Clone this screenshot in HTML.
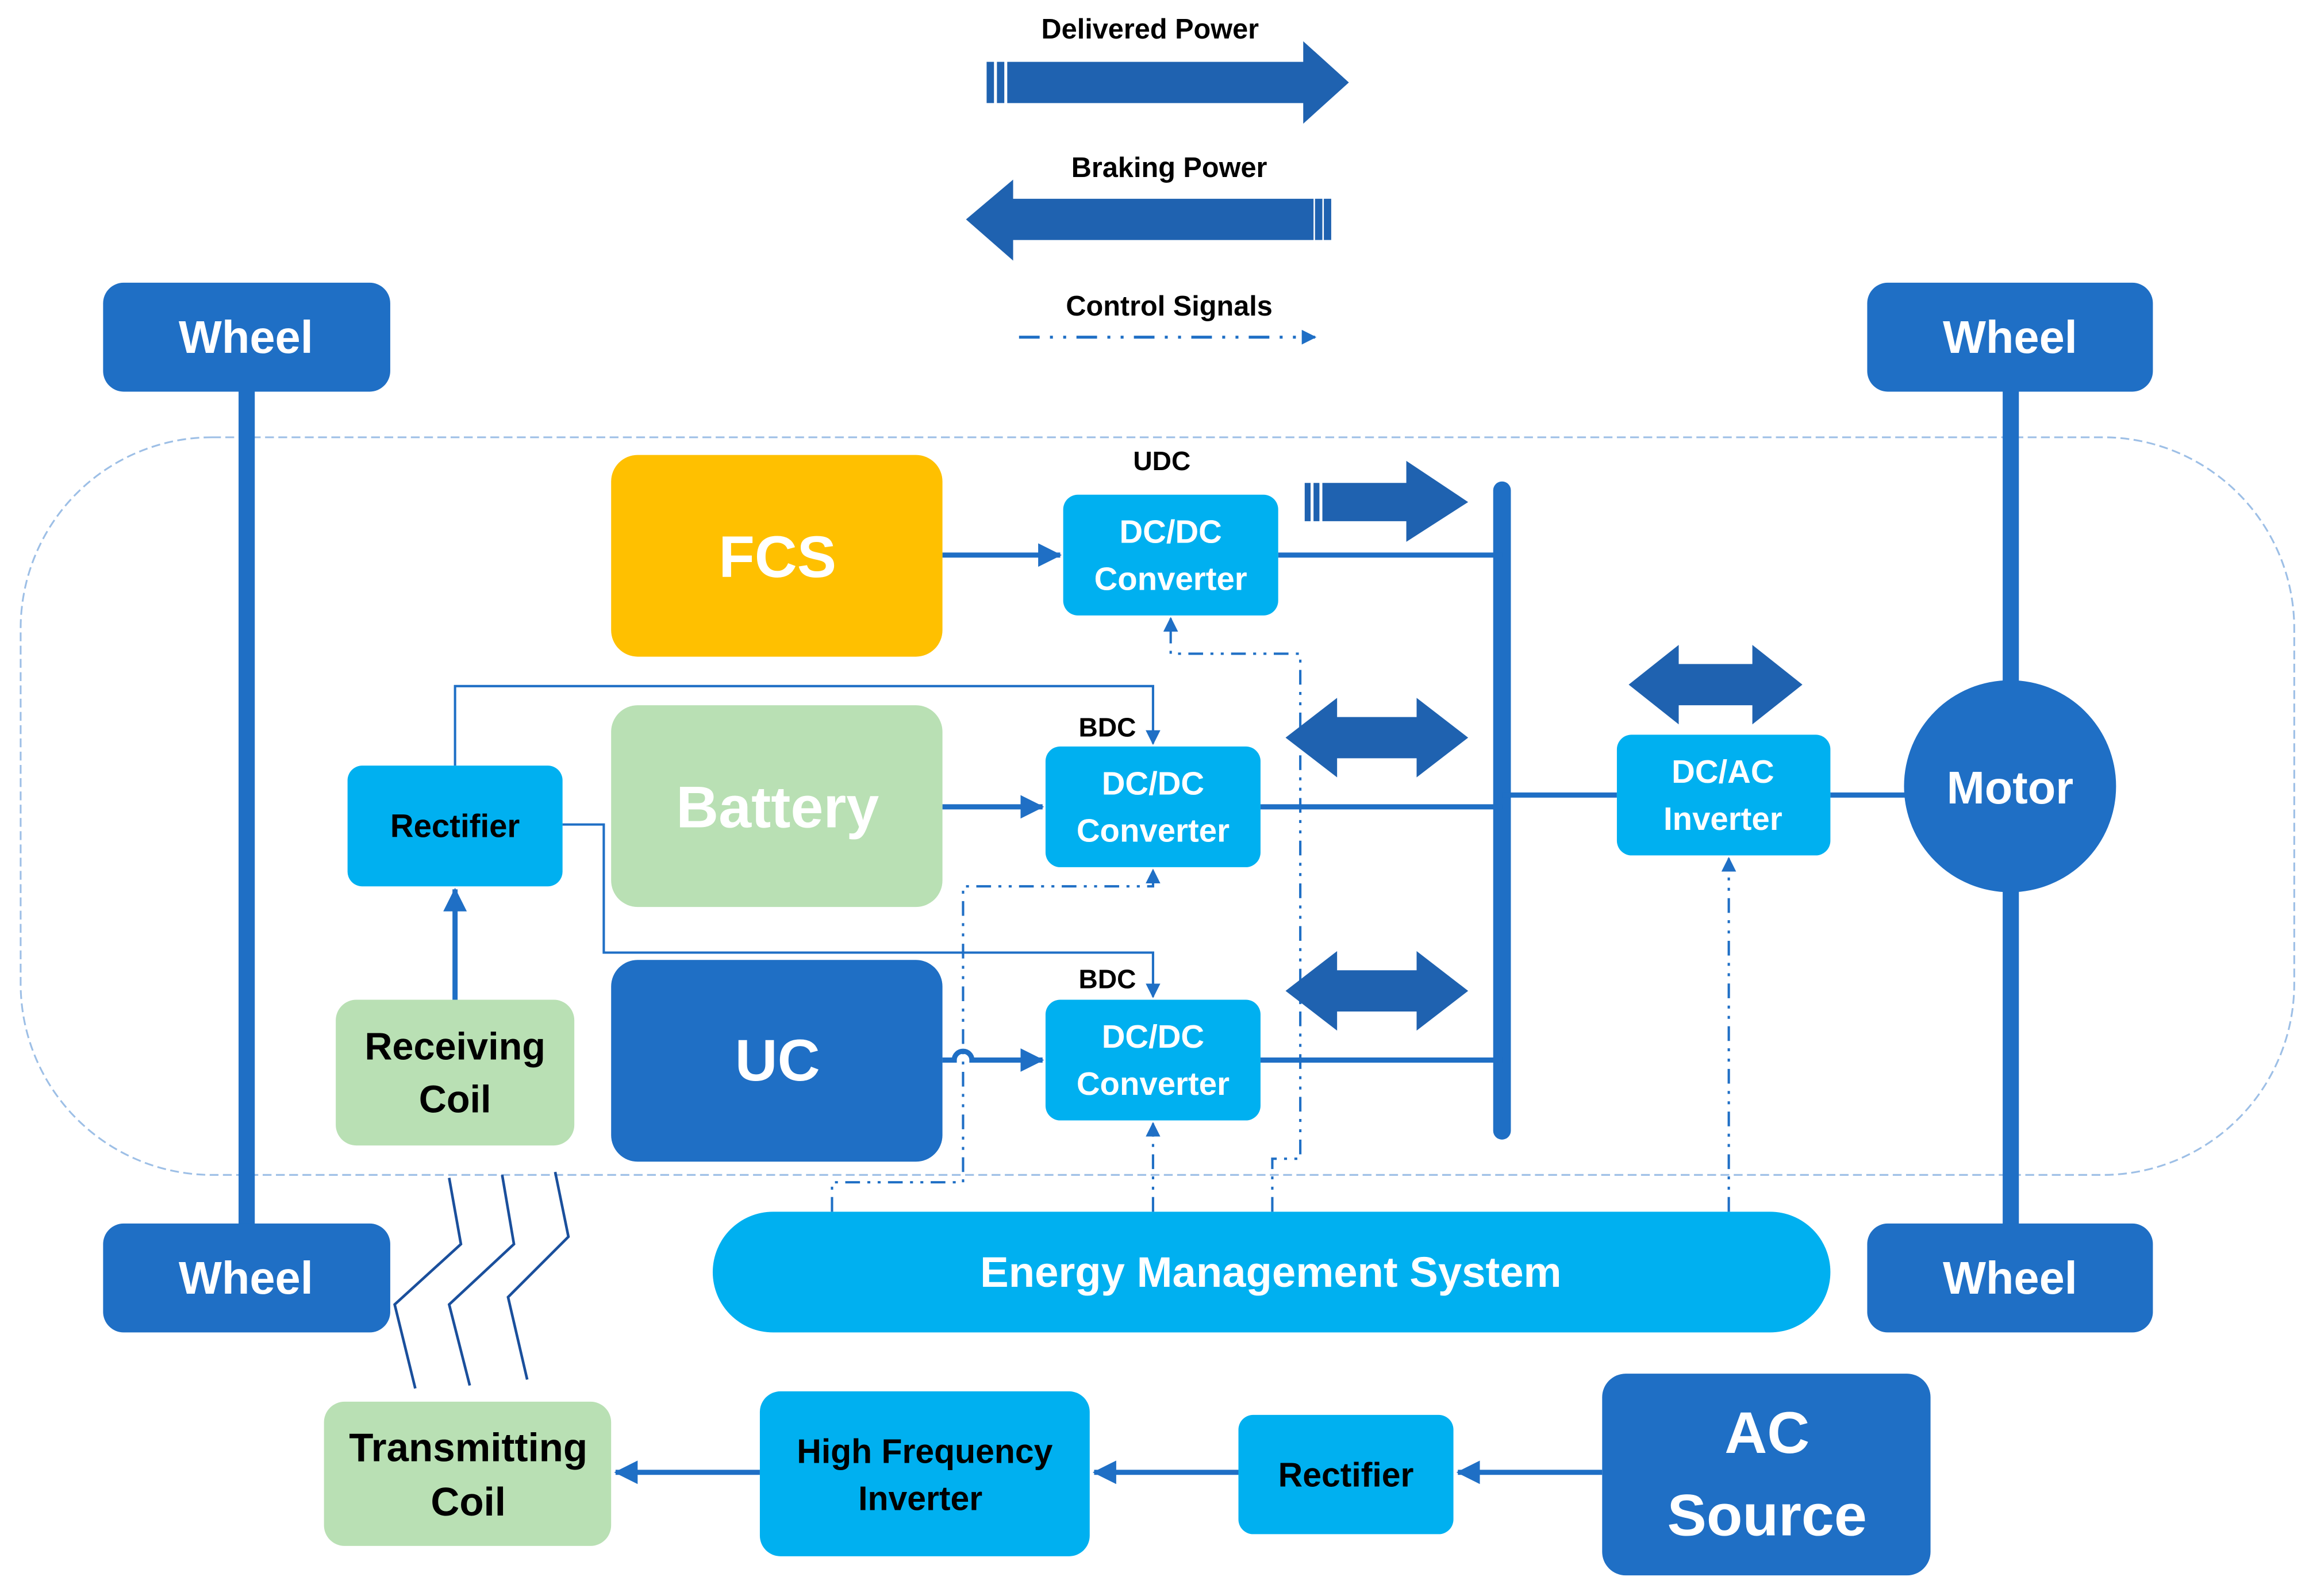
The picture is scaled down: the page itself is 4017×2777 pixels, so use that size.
<!DOCTYPE html>
<html><head><meta charset="utf-8"><style>
html,body{margin:0;padding:0;background:#fff}
svg{display:block}
text{font-family:"Liberation Sans","DejaVu Sans",sans-serif;font-weight:bold;text-anchor:middle;dominant-baseline:central}
</style></head><body>
<svg width="4017" height="2777" viewBox="0 0 1568 1084" xmlns="http://www.w3.org/2000/svg">
<defs>
<marker id="a" markerWidth="10" markerHeight="10" refX="9" refY="5" orient="auto" markerUnits="userSpaceOnUse"><path d="M0,0 L10,5 L0,10 Z" fill="#1f6fc5"/></marker>
<marker id="b" markerWidth="16" markerHeight="16" refX="15" refY="8" orient="auto" markerUnits="userSpaceOnUse"><path d="M0,0 L16,8 L0,16 Z" fill="#1f6fc5"/></marker>
</defs>
<!-- legend -->
<text x="781" y="20" font-size="19" fill="#000">Delivered Power</text>
<path d="M684,42 H885 V28 L916,56 L885,84 V70 H684 Z" fill="#1f62b0"/>
<rect x="670" y="42" width="5" height="28" fill="#1f62b0"/><rect x="677" y="42" width="5" height="28" fill="#1f62b0"/>
<text x="794" y="114" font-size="19" fill="#000">Braking Power</text>
<path d="M892,135 H688 V122 L656,149 L688,177 V163 H892 Z" fill="#1f62b0"/>
<rect x="893" y="135" width="5" height="28" fill="#1f62b0"/><rect x="899" y="135" width="5" height="28" fill="#1f62b0"/>
<text x="794" y="208" font-size="19" fill="#000">Control Signals</text>
<line x1="692" y1="229" x2="893" y2="229" stroke="#1f6fc5" stroke-width="2" stroke-dasharray="14,7,2,7,2,7" marker-end="url(#a)"/>
<!-- car body -->
<rect x="14" y="297" width="1544" height="501" rx="130" fill="none" stroke="#9dbfe6" stroke-width="1.2" stroke-dasharray="6,3"/>
<!-- axles -->
<rect x="162" y="260" width="11" height="580" fill="#1f6fc5"/>
<rect x="1360" y="260" width="11" height="580" fill="#1f6fc5"/>
<!-- wheels -->
<g fill="#1f6fc5">
<rect x="70" y="192" width="195" height="74" rx="14"/><rect x="1268" y="192" width="194" height="74" rx="14"/>
<rect x="70" y="831" width="195" height="74" rx="14"/><rect x="1268" y="831" width="194" height="74" rx="14"/>
</g>
<g font-size="31" fill="#fff">
<text x="167" y="229">Wheel</text><text x="1365" y="229">Wheel</text>
<text x="167" y="868">Wheel</text><text x="1365" y="868">Wheel</text>
</g>
<!-- bus -->
<rect x="1014" y="327" width="12" height="447" rx="6" fill="#1f6fc5"/>
<g stroke="#1f6fc5" stroke-width="3.5" fill="none">
<line x1="868" y1="377" x2="1020" y2="377"/>
<line x1="856" y1="548" x2="1020" y2="548"/>
<line x1="856" y1="720" x2="1020" y2="720"/>
<line x1="1020" y1="540" x2="1098" y2="540"/>
<line x1="1243" y1="540" x2="1295" y2="540"/>
<line x1="640" y1="377" x2="720" y2="377" marker-end="url(#b)"/>
<line x1="640" y1="548" x2="708" y2="548" marker-end="url(#b)"/>
<path d="M640,720 H648 A6,6 0 0 1 660,720 H708" marker-end="url(#b)"/>
<line x1="309" y1="679" x2="309" y2="604" marker-end="url(#b)"/>
<line x1="1088" y1="1000" x2="990" y2="1000" marker-end="url(#b)"/>
<line x1="841" y1="1000" x2="743" y2="1000" marker-end="url(#b)"/>
<line x1="516" y1="1000" x2="418" y2="1000" marker-end="url(#b)"/>
</g>
<!-- thin lines from rectifier -->
<g stroke="#1f6fc5" stroke-width="1.6" fill="none">
<path d="M309,520 V466 H783 V505" marker-end="url(#a)"/>
<path d="M382,560 H410 V647 H783 V677" marker-end="url(#a)"/>
</g>
<!-- control lines -->
<g stroke="#1f6fc5" stroke-width="1.6" fill="none" stroke-dasharray="10,5,2,5,2,5">
<path d="M864,823 V787 H883 V444 H795 V420" marker-end="url(#a)"/>
<path d="M783,823 V763" marker-end="url(#a)"/>
<path d="M565,823 V803 H654 V602 H783 V591" marker-end="url(#a)"/>
<path d="M1174,823 V583" marker-end="url(#a)"/>
</g>
<!-- big arrows -->
<g fill="#1f62b0">
<path d="M898,328 H955 V313 L997,341 L955,368 V354 H898 Z"/>
<rect x="886" y="328" width="4" height="26"/><rect x="892" y="328" width="4" height="26"/>
<path d="M873,501 L908,474 V487 H962 V474 L997,501 L962,528 V515 H908 V528 Z"/>
<path d="M873,673 L908,646 V659 H962 V646 L997,673 L962,700 V687 H908 V700 Z"/>
<path d="M1106,465 L1140,438 V451 H1190 V438 L1224,465 L1190,492 V479 H1140 V492 Z"/>
</g>
<!-- sources -->
<rect x="415" y="309" width="225" height="137" rx="18" fill="#ffc000"/>
<text x="528" y="378" font-size="40" fill="#fff">FCS</text>
<rect x="415" y="479" width="225" height="137" rx="18" fill="#b9e0b4"/>
<text x="528" y="548" font-size="40" fill="#fff">Battery</text>
<rect x="415" y="652" width="225" height="137" rx="18" fill="#1f6fc5"/>
<text x="528" y="720" font-size="40" fill="#fff">UC</text>
<!-- converters -->
<g fill="#00b0f0">
<rect x="722" y="336" width="146" height="82" rx="10"/>
<rect x="710" y="507" width="146" height="82" rx="10"/>
<rect x="710" y="679" width="146" height="82" rx="10"/>
<rect x="1098" y="499" width="145" height="82" rx="10"/>
<rect x="236" y="520" width="146" height="82" rx="10"/>
<rect x="484" y="823" width="759" height="82" rx="41"/>
<rect x="516" y="945" width="224" height="112" rx="14"/>
<rect x="841" y="961" width="146" height="81" rx="10"/>
</g>
<g font-size="22" fill="#fff">
<text x="795" y="361">DC/DC</text><text x="795" y="393">Converter</text>
<text x="783" y="532">DC/DC</text><text x="783" y="564">Converter</text>
<text x="783" y="704">DC/DC</text><text x="783" y="736">Converter</text>
<text x="1170" y="524">DC/AC</text><text x="1170" y="556">Inverter</text>
</g>
<g font-size="18" fill="#000">
<text x="789" y="313">UDC</text><text x="752" y="494">BDC</text><text x="752" y="665">BDC</text>
</g>
<text x="309" y="561" font-size="22" fill="#000">Rectifier</text>
<text x="863" y="864" font-size="29" fill="#fff">Energy Management System</text>
<!-- motor -->
<circle cx="1365" cy="534" r="72" fill="#1f6fc5"/>
<text x="1365" y="535" font-size="31" fill="#fff">Motor</text>
<!-- receiving coil -->
<rect x="228" y="679" width="162" height="99" rx="14" fill="#b9e0b4"/>
<text x="309" y="711" font-size="26" fill="#000">Receiving</text><text x="309" y="747" font-size="26" fill="#000">Coil</text>
<!-- wireless -->
<g stroke="#1a4f9c" stroke-width="1.8" fill="none">
<path d="M305,800 L313,845 L268,886 L282,943"/>
<path d="M341,798 L349,845 L305,886 L319,941"/>
<path d="M377,796 L386,840 L345,881 L358,937"/>
</g>
<!-- bottom chain -->
<rect x="220" y="952" width="195" height="98" rx="14" fill="#b9e0b4"/>
<text x="318" y="983" font-size="27" fill="#000">Transmitting</text><text x="318" y="1020" font-size="27" fill="#000">Coil</text>
<text x="628" y="986" font-size="23" fill="#000">High Frequency</text><text x="625" y="1018" font-size="23" fill="#000">Inverter</text>
<text x="914" y="1002" font-size="23" fill="#000">Rectifier</text>
<rect x="1088" y="933" width="223" height="137" rx="16" fill="#1f6fc5"/>
<text x="1200" y="973" font-size="40" fill="#fff">AC</text><text x="1200" y="1029" font-size="40" fill="#fff">Source</text>
</svg>
</body></html>
